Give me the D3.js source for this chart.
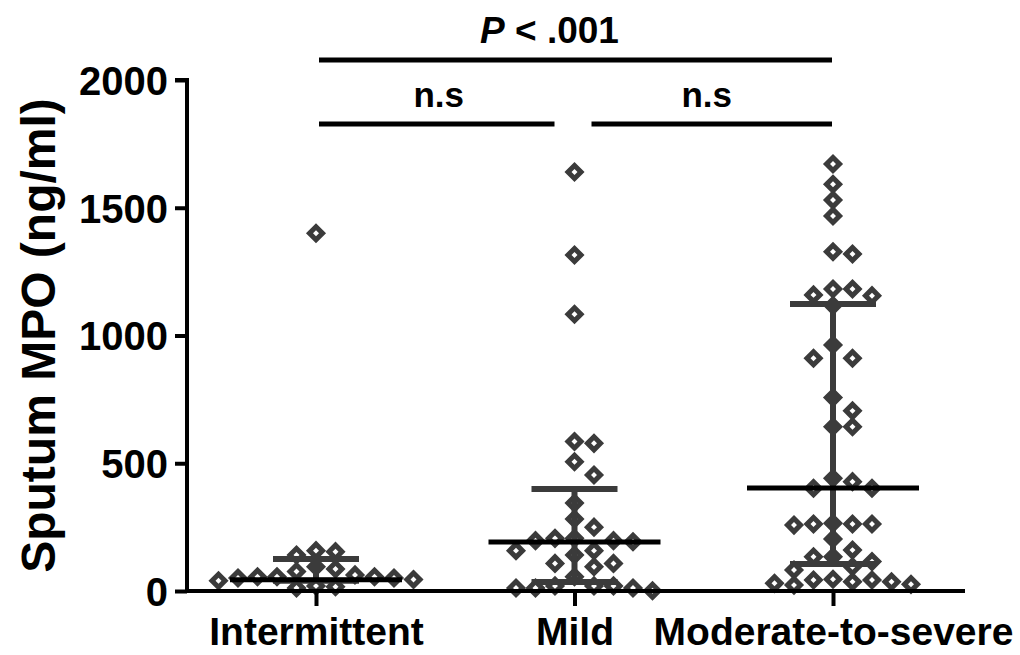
<!DOCTYPE html>
<html>
<head>
<meta charset="utf-8">
<script src="https://cdn.jsdelivr.net/npm/d3@7"></script>
<style>
  html, body { margin: 0; padding: 0; background: #fff; }
  svg { display: block; }
  text { font-family: "Liberation Sans", Arial, sans-serif; font-weight: bold; }
</style>
</head>
<body>
<svg id="chart" width="1020" height="655"></svg>
<script>
// ---- data ----
const categories = ["Intermittent", "Mild", "Moderate-to-severe"];
const intermittentValues = [1400, 158, 154, 141, 95, 86, 76, 63, 56, 56, 56, 51, 51, 45, 40, 17, 12, 20];
const mildValues = [1640, 1315, 1083, 585, 578, 506, 454, 344, 282, 250, 206, 206, 197, 197, 193,
                    158, 158, 141, 108, 108, 95, 56, 20, 12, 12, 1, 12, 20, 20];
const moderateValues = [1671, 1592, 1530, 1468, 1328, 1319, 1182, 1182, 1159, 1156, 1117, 963, 911, 911,
                        757, 705, 643, 643, 441, 428, 402, 402, 265, 262, 262, 262, 258, 204, 160, 134,
                        134, 115, 95, 82, 46, 43, 43, 36, 36, 30, 26, 23];
const medians = [44, 192, 403];
const q1Values = [40, 35, 106];
const q3Values = [125, 399, 1123];
const yTicks = [0, 500, 1000, 1500, 2000];
const yTitle = "Sputum MPO (ng/ml)";
const comparisons = [
  { from: "Intermittent", to: "Moderate-to-severe", label: "P < .001", level: 2 },
  { from: "Intermittent", to: "Mild", label: "n.s", level: 1 },
  { from: "Mild", to: "Moderate-to-severe", label: "n.s", level: 1 }
];

const groups = [intermittentValues, mildValues, moderateValues];

// ---- layout ----
const svg = d3.select("#chart");
const y = d3.scaleLinear().domain([0, 2000]).range([591, 80]);
const x = d3.scalePoint().domain(categories).range([316, 833]);
const axisLeft = 187, axisRight = 965;
const ink = "#3b3b3b";

// points: simple beeswarm
const step = 19.5, minDy = 15;
groups.forEach((vals, gi) => {
  const cx = x(categories[gi]);
  const sorted = vals.slice().sort((a, b) => b - a);
  const placed = [];
  sorted.forEach(v => {
    const py = y(v);
    let k = 0;
    for (let i = 0; i < 40; i++) {
      const cand = i === 0 ? 0 : (i % 2 === 1 ? (i + 1) / 2 : -i / 2);
      const px = cx + cand * step;
      const hit = placed.some(p => Math.abs(p.x - px) < step * 0.99 && Math.abs(p.y - py) < minDy);
      if (!hit) { k = cand; break; }
    }
    placed.push({ x: cx + k * step, y: py, v });
  });
  svg.append("g").selectAll("path").data(placed).join("path")
    .attr("d", d3.symbol(d3.symbolSquare, 85))
    .attr("transform", d => `translate(${d.x},${d.y}) rotate(45)`)
    .attr("fill", "#fff")
    .attr("stroke", ink)
    .attr("stroke-width", 5);
});

// error bars (IQR) and median
categories.forEach((c, i) => {
  const cx = x(c);
  const g = svg.append("g");
  g.append("line").attr("x1", cx).attr("x2", cx)
    .attr("y1", y(q1Values[i])).attr("y2", y(q3Values[i]))
    .attr("stroke", ink).attr("stroke-width", 6);
  [q1Values[i], q3Values[i]].forEach(q => {
    g.append("line").attr("x1", cx - 43).attr("x2", cx + 43)
      .attr("y1", y(q)).attr("y2", y(q))
      .attr("stroke", ink).attr("stroke-width", 6);
  });
  g.append("line").attr("x1", cx - 86).attr("x2", cx + 86)
    .attr("y1", y(medians[i])).attr("y2", y(medians[i]))
    .attr("stroke", "#000").attr("stroke-width", 5);
});

// y axis
const yAxis = svg.append("g").attr("transform", `translate(${axisLeft},0)`)
  .call(d3.axisLeft(y).tickValues(yTicks).tickSize(12).tickPadding(7).tickFormat(d3.format("d")));
yAxis.select(".domain").attr("stroke", "#000").attr("stroke-width", 4)
  .attr("d", `M-12,${y(2000)}H0V${y(0)}`);
yAxis.selectAll(".tick line").attr("stroke", "#000").attr("stroke-width", 4);
yAxis.selectAll(".tick text").attr("fill", "#000").style("font-size", "40px")
  .attr("dy", "0.36em");

// x axis
const xAxis = svg.append("g").attr("transform", `translate(0,${y(0)})`)
  .call(d3.axisBottom(x).tickSize(15).tickPadding(11));
xAxis.select(".domain").attr("stroke", "#000").attr("stroke-width", 4)
  .attr("d", `M${axisLeft},0H${axisRight}`);
xAxis.selectAll(".tick line").attr("stroke", "#000").attr("stroke-width", 4);
xAxis.selectAll(".tick text").attr("fill", "#000").style("font-size", "39px");

// y title
svg.append("text")
  .attr("transform", `translate(55,${(y(0) + y(2000)) / 2}) rotate(-90)`)
  .attr("text-anchor", "middle")
  .style("font-size", "48px")
  .text(yTitle);

// comparison brackets
const levelY = { 1: 124, 2: 60 };
comparisons.forEach(cmp => {
  let x1 = x(cmp.from), x2 = x(cmp.to), shift = 0;
  if (cmp.level === 1) {
    if (cmp.from === "Intermittent") { x1 = x1 + 3; x2 = x2 - 20; shift = 2; }
    else { x1 = x1 + 17; x2 = x2 - 1; shift = -5; }
  } else { x1 = x1 + 3; x2 = x2 - 1; shift = -26; }
  const ly = levelY[cmp.level];
  svg.append("line").attr("x1", x1).attr("x2", x2).attr("y1", ly).attr("y2", ly)
    .attr("stroke", "#000").attr("stroke-width", 5);
  const t = svg.append("text").attr("x", (x1 + x2) / 2 + shift).attr("y", ly - 17)
    .attr("text-anchor", "middle").style("font-size", cmp.level === 2 ? "37px" : "35px");
  if (cmp.label.startsWith("P")) {
    t.append("tspan").style("font-style", "italic").text("P");
    t.append("tspan").text(cmp.label.slice(1));
  } else {
    t.text(cmp.label);
  }
});
</script>
</body>
</html>
